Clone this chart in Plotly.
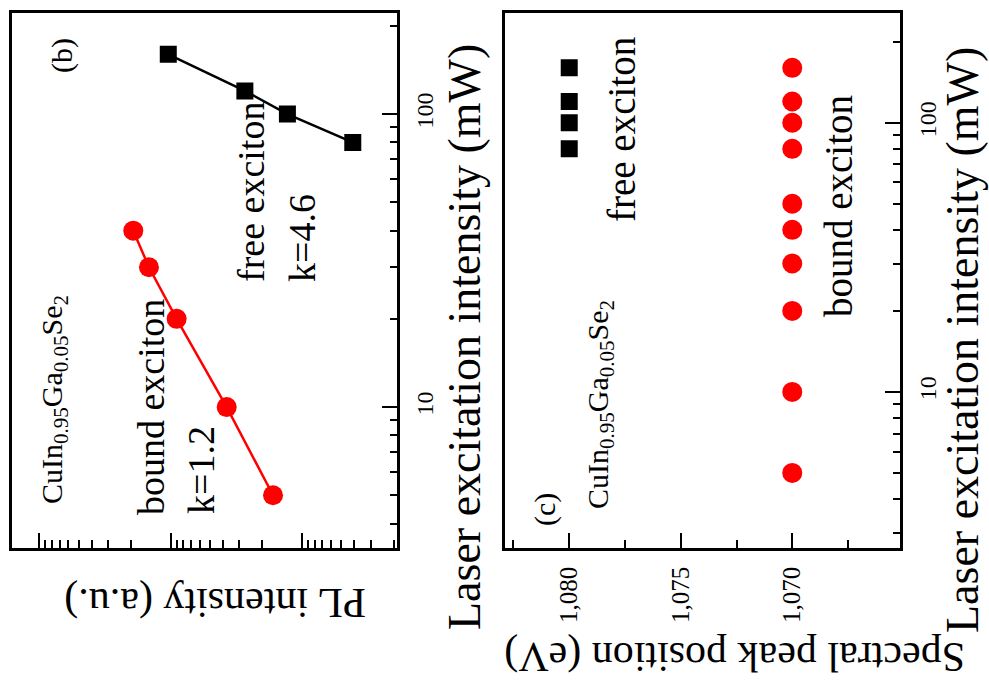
import plotly.graph_objects as go

W, H = 989, 682

# ---- data ----
# panel (b): PL intensity vs laser excitation intensity
laser_bound_b = [5, 10, 20, 30, 40]
pl_bound_b = [166, 374, 900, 1462, 1925]
laser_free_b = [80, 100, 120, 160]
pl_free_b = [41, 129, 272, 1042]

# panel (c): spectral peak position vs laser excitation intensity
laser_bound_c = [5, 10, 20, 30, 40, 50, 80, 100, 120, 160]
peak_bound_c = [1.070, 1.070, 1.070, 1.070, 1.070, 1.070, 1.070, 1.070, 1.070, 1.070]
laser_free_c = [80, 100, 120, 160]
peak_free_c = [1.080, 1.080, 1.080, 1.080]

laser_ticks = [10, 100]
laser_ticktext = ["10", "100"]
pl_ticks = [100, 1000, 10000]
peak_ticks = [1.080, 1.075, 1.070]

FONT = "Liberation Serif"


def px(x):
    return x / W


def py(y):
    return 1 - y / H


fig = go.Figure()

fig.add_trace(go.Scatter(x=pl_bound_b, y=laser_bound_b, mode="lines+markers",
                         line=dict(color="#ff0000", width=2.5),
                         marker=dict(symbol="circle", size=20, color="#ff0000"),
                         xaxis="x", yaxis="y", showlegend=False))
fig.add_trace(go.Scatter(x=pl_free_b, y=laser_free_b, mode="lines+markers",
                         line=dict(color="#000000", width=2.5),
                         marker=dict(symbol="square", size=17, color="#000000"),
                         xaxis="x", yaxis="y", showlegend=False))
fig.add_trace(go.Scatter(x=peak_bound_c, y=laser_bound_c, mode="markers",
                         marker=dict(symbol="circle", size=20, color="#ff0000"),
                         xaxis="x2", yaxis="y2", showlegend=False))
fig.add_trace(go.Scatter(x=peak_free_c, y=laser_free_c, mode="markers",
                         marker=dict(symbol="square", size=17, color="#000000"),
                         xaxis="x2", yaxis="y2", showlegend=False))

ydom = [py(548), py(12.7)]

common_axis = dict(showline=True, linecolor="black", linewidth=2.5, mirror=True,
                   showgrid=False, zeroline=False, ticks="inside", tickcolor="black",
                   tickwidth=2, tickfont=dict(family=FONT, size=24, color="black"))

fig.update_layout(
    width=W, height=H, autosize=False,
    margin=dict(l=0, r=0, t=0, b=0),
    paper_bgcolor="white", plot_bgcolor="white",
    separators=", ",
    font=dict(family=FONT, color="black"),
    xaxis=dict(common_axis, type="log", domain=[px(12), px(397)], anchor="y",
               range=[4.208, 1.276], tickvals=pl_ticks, showticklabels=False,
               ticklen=15,
               minor=dict(ticks="inside", ticklen=8, tickwidth=2, tickcolor="black", dtick="D1")),
    yaxis=dict(common_axis, type="log", domain=ydom, anchor="x", side="right",
               range=[0.519, 2.346], tickvals=laser_ticks, ticktext=laser_ticktext,
               tickangle=-90, ticklen=15, ticklabelstandoff=4,
               minor=dict(ticks="inside", ticklen=7, tickwidth=2, tickcolor="black", dtick="D1")),
    xaxis2=dict(common_axis, type="linear", domain=[px(505), px(900)], anchor="y2",
                range=[1.08288, 1.06517], tickvals=peak_ticks, tickformat=".3f",
                tickangle=-90, ticklen=15, ticklabelstandoff=6,
                tickfont=dict(family=FONT, size=25, color="black"),
                minor=dict(ticks="inside", ticklen=8, tickwidth=2, tickcolor="black",
                           tick0=1.0675, dtick=0.005)),
    yaxis2=dict(common_axis, type="log", domain=ydom, anchor="x2", side="right",
                range=[0.42, 2.409], tickvals=laser_ticks, ticktext=laser_ticktext,
                tickangle=-90, ticklen=15, ticklabelstandoff=4,
                minor=dict(ticks="inside", ticklen=7, tickwidth=2, tickcolor="black", dtick="D1")),
)

ann = []


def add_text(text, x, y, size, angle=-90):
    ann.append(dict(text=text, x=px(x), y=py(y), xref="paper", yref="paper",
                    xanchor="center", yanchor="middle", showarrow=False,
                    textangle=angle, font=dict(family=FONT, size=size, color="black")))


formula = "CuIn<sub>0.95</sub>Ga<sub>0.05</sub>Se<sub>2</sub>"

# panel (b)
add_text("(b)", 62, 55, 30)
add_text(formula, 54, 400, 30)
add_text("bound exciton", 151, 407, 38)
add_text("k=1.2", 201, 470, 38)
add_text("free exciton", 251, 192, 38)
add_text("k=4.6", 302, 238, 38)
add_text("Laser excitation intensity (mW)", 464, 337, 46)
add_text("PL intensity (a.u.)", 215, 603, 42, angle=180)

# panel (c)
add_text("(c)", 545, 510, 30)
add_text(formula, 600, 405, 30)
add_text("free exciton", 621, 130, 39)
add_text("bound exciton", 839, 206, 39)
add_text("Laser excitation intensity (mW)", 962, 340, 46)
add_text("Spectral peak position (eV)", 735, 657, 42, angle=180)

fig.update_layout(annotations=ann)

fig.write_html("out.html")
